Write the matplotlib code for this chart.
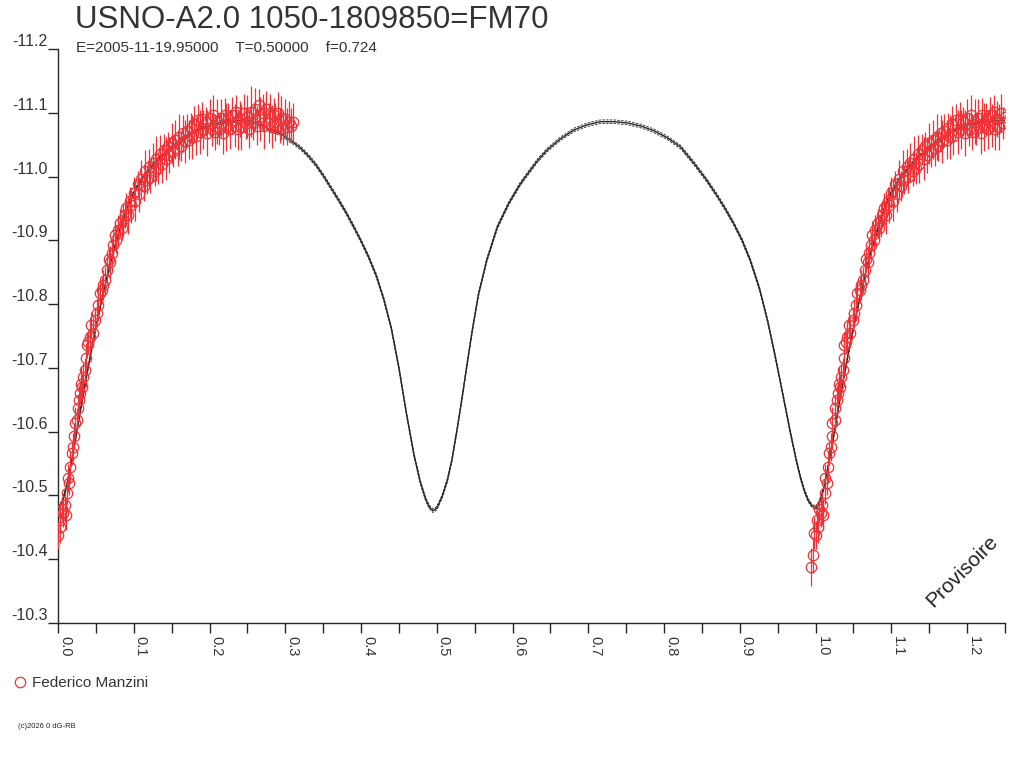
import numpy as np
import matplotlib
matplotlib.use("Agg")
import matplotlib.pyplot as plt
from matplotlib.ticker import MultipleLocator, FixedLocator
from matplotlib.lines import Line2D
from matplotlib.transforms import offset_copy

plt.rcParams['font.family'] = ['Liberation Sans', 'DejaVu Sans']

# ---------------- data ----------------
title = "USNO-A2.0 1050-1809850=FM70"
subtitle = "E=2005-11-19.95000    T=0.50000    f=0.724"
observer = "Federico Manzini"

x_ticks = [0.0, 0.1, 0.2, 0.3, 0.4, 0.5, 0.6, 0.7, 0.8, 0.9, 1.0, 1.1, 1.2]
x_labels = ["0.0", "0.1", "0.2", "0.3", "0.4", "0.5", "0.6", "0.7", "0.8", "0.9", "1.0", "1.1", "1.2"]
y_ticks = [-11.2, -11.1, -11.0, -10.9, -10.8, -10.7, -10.6, -10.5, -10.4, -10.3]
y_labels = ["-11.2", "-11.1", "-11.0", "-10.9", "-10.8", "-10.7", "-10.6", "-10.5", "-10.4", "-10.3"]

# model light curve (phase 0..1)
phase_model = [0.000, 0.005, 0.011, 0.017, 0.024, 0.030, 0.037, 0.044, 0.050, 0.057,
               0.063, 0.070, 0.077, 0.086, 0.093, 0.100, 0.110, 0.121, 0.134, 0.148,
               0.163, 0.178, 0.190, 0.201, 0.218, 0.235, 0.250, 0.265, 0.280, 0.295,
               0.310, 0.320, 0.330, 0.340, 0.350, 0.360, 0.370, 0.380, 0.390, 0.400,
               0.410, 0.420, 0.430, 0.440, 0.450, 0.460, 0.470, 0.478, 0.485, 0.490,
               0.495, 0.500, 0.507, 0.514, 0.520, 0.527, 0.534, 0.540, 0.547, 0.555,
               0.566, 0.580, 0.595, 0.610, 0.621, 0.633, 0.646, 0.663, 0.681, 0.698,
               0.716, 0.734, 0.752, 0.770, 0.786, 0.804, 0.822, 0.840, 0.857, 0.870,
               0.881, 0.892, 0.903, 0.914, 0.926, 0.937, 0.946, 0.954, 0.961, 0.967,
               0.974, 0.980, 0.985, 0.990, 0.995, 1.000]
mag_model = [-10.480, -10.489, -10.512, -10.548, -10.594, -10.636, -10.683, -10.727, -10.763, -10.802,
             -10.834, -10.868, -10.899, -10.934, -10.957, -10.975, -10.995, -11.012, -11.029, -11.044,
             -11.058, -11.069, -11.076, -11.081, -11.086, -11.088, -11.088, -11.082, -11.074, -11.066,
             -11.054, -11.045, -11.033, -11.019, -11.002, -10.983, -10.964, -10.944, -10.922, -10.899,
             -10.874, -10.845, -10.808, -10.762, -10.700, -10.628, -10.563, -10.522, -10.495, -10.482,
             -10.476, -10.480, -10.498, -10.524, -10.556, -10.605, -10.658, -10.706, -10.760, -10.815,
             -10.869, -10.921, -10.958, -10.988, -11.006, -11.025, -11.042, -11.059, -11.073, -11.081,
             -11.086, -11.086, -11.084, -11.079, -11.072, -11.061, -11.046, -11.020, -10.993, -10.970,
             -10.949, -10.926, -10.900, -10.868, -10.824, -10.772, -10.722, -10.675, -10.633, -10.597,
             -10.558, -10.528, -10.508, -10.493, -10.484, -10.480]

# observations (phase, magnitude, error)
phase_obs = [0.994, 0.996, 0.998,
             0.000, 0.002, 0.003, 0.005, 0.007, 0.009, 0.010, 0.012, 0.013, 0.015,
             0.016, 0.018, 0.020, 0.021, 0.022, 0.025, 0.026, 0.028, 0.029, 0.031,
             0.032, 0.033, 0.036, 0.037, 0.038, 0.040, 0.042, 0.044, 0.046, 0.049,
             0.051, 0.053, 0.055, 0.058, 0.060, 0.062, 0.065, 0.067, 0.069, 0.071,
             0.073, 0.075, 0.077, 0.079, 0.082, 0.084, 0.086, 0.088,
             0.090, 0.093, 0.095, 0.097, 0.100, 0.102, 0.105, 0.107,
             0.110, 0.113, 0.115, 0.117, 0.120, 0.122, 0.125, 0.128,
             0.130, 0.132, 0.135, 0.137, 0.140, 0.143, 0.145, 0.147,
             0.150, 0.152, 0.155, 0.158, 0.160, 0.162, 0.165, 0.167,
             0.170, 0.173, 0.175, 0.177, 0.180, 0.182, 0.185, 0.188,
             0.190, 0.192, 0.195, 0.197, 0.200, 0.203, 0.205, 0.207,
             0.210, 0.212, 0.215, 0.218, 0.220, 0.222, 0.225, 0.227,
             0.230, 0.233, 0.235, 0.237, 0.240, 0.242, 0.245, 0.248,
             0.250, 0.252, 0.255, 0.257, 0.260, 0.263, 0.265, 0.267,
             0.270, 0.272, 0.275, 0.278, 0.280, 0.282, 0.285, 0.287,
             0.290, 0.293, 0.295, 0.297, 0.300, 0.302, 0.305, 0.307,
             0.310]
mag_obs = [-10.388, -10.407, -10.441,
           -10.438, -10.462, -10.451, -10.478, -10.472, -10.485, -10.470, -10.504, -10.527, -10.520,
           -10.545, -10.566, -10.576, -10.593, -10.614, -10.618, -10.637, -10.650, -10.661, -10.675,
           -10.670, -10.686, -10.697, -10.715, -10.736, -10.740, -10.748, -10.767, -10.755, -10.775,
           -10.786, -10.799, -10.817, -10.822, -10.830, -10.838, -10.853, -10.870, -10.866, -10.880,
           -10.893, -10.908, -10.900, -10.916, -10.927, -10.920, -10.932, -10.940,
           -10.950, -10.940, -10.962, -10.955, -10.975, -10.962, -10.988, -10.972,
           -10.996, -10.985, -11.008, -10.994, -11.015, -11.000, -11.022, -11.008,
           -11.028, -11.014, -11.036, -11.020, -11.042, -11.028, -11.048, -11.034,
           -11.052, -11.040, -11.058, -11.044, -11.062, -11.048, -11.068, -11.055,
           -11.072, -11.058, -11.076, -11.062, -11.082, -11.064, -11.088, -11.070,
           -11.090, -11.074, -11.086, -11.068, -11.092, -11.074, -11.096, -11.070,
           -11.086, -11.074, -11.092, -11.068, -11.096, -11.078, -11.090, -11.074,
           -11.096, -11.080, -11.102, -11.074, -11.090, -11.078, -11.100, -11.084,
           -11.094, -11.074, -11.102, -11.084, -11.106, -11.080, -11.112, -11.090,
           -11.100, -11.080, -11.106, -11.084, -11.100, -11.078, -11.096, -11.086,
           -11.100, -11.080, -11.092, -11.076, -11.090, -11.078, -11.086, -11.080,
           -11.085]
err_obs = [0.030, 0.028, 0.025, 0.022, 0.020, 0.025, 0.018, 0.022, 0.020, 0.024,
           0.018, 0.022, 0.020, 0.025, 0.018, 0.022, 0.020, 0.024, 0.019, 0.021,
           0.023, 0.018, 0.026, 0.020, 0.022, 0.019, 0.024, 0.021, 0.018, 0.025,
           0.020, 0.023, 0.019, 0.022, 0.026, 0.018, 0.021, 0.024, 0.020, 0.022,
           0.019, 0.025, 0.021, 0.018, 0.023, 0.020, 0.024, 0.022, 0.019, 0.026,
           0.021, 0.025, 0.030, 0.022, 0.028, 0.024, 0.032, 0.020, 0.027, 0.030,
           0.024, 0.033, 0.022, 0.028, 0.026, 0.031, 0.023, 0.035, 0.025, 0.029,
           0.030, 0.024, 0.034, 0.022, 0.028, 0.032, 0.025, 0.030, 0.027, 0.036,
           0.023, 0.029, 0.033, 0.026, 0.031, 0.024, 0.035, 0.028, 0.030, 0.025,
           0.034, 0.027, 0.031, 0.023, 0.036, 0.029, 0.026, 0.032, 0.028, 0.035,
           0.024, 0.030, 0.033, 0.027, 0.038, 0.025, 0.031, 0.029, 0.034, 0.026,
           0.032, 0.028, 0.036, 0.030, 0.025, 0.034, 0.029, 0.040, 0.027, 0.033,
           0.031, 0.026, 0.035, 0.029, 0.037, 0.028, 0.032, 0.030, 0.034, 0.027,
           0.030, 0.033, 0.028, 0.035, 0.026, 0.031, 0.029, 0.032, 0.027, 0.030]

XMAX = 1.25
RED = '#ee3338'
BLACK = '#262626'
TXT = '#333333'

# ---------------- figure ----------------
fig = plt.figure(figsize=(10.24, 7.68), dpi=100)
ax = fig.add_axes([58 / 1024, 1 - 623 / 768, (1005 - 58) / 1024, (623 - 49) / 768])

# model curve repeated beyond phase 1
pm = np.array(phase_model)
mm = np.array(mag_model)
ext = (pm > 0) & (pm <= XMAX - 1 + 0.001)
pm_all = np.concatenate([pm, pm[ext] + 1])
mm_all = np.concatenate([mm, mm[ext]])

for dy in [1.8, -1.8]:
    tr = offset_copy(ax.transData, fig=fig, x=0, y=dy, units='dots')
    ax.plot(pm_all, mm_all, color=BLACK, lw=0.6, ls=(0, (3, 1.5)), transform=tr, zorder=2)
ax.plot(pm_all, mm_all, color=BLACK, lw=1.0, zorder=2)

# observations, repeated at phase+1 and phase-1 inside the window
po = np.array(phase_obs)
mo = np.array(mag_obs)
eo = np.array(err_obs)
px = np.concatenate([po, po + 1, po - 1])
my = np.concatenate([mo, mo, mo])
ey = np.concatenate([eo, eo, eo])
keep = (px >= 0) & (px <= XMAX)
ax.errorbar(px[keep], my[keep], yerr=ey[keep], fmt='o', ms=7.5, mfc='none', mec=RED,
            mew=0.9, ecolor=RED, elinewidth=0.9, capsize=0, zorder=3)

ax.set_xlim(0, XMAX)
ax.set_ylim(-10.3, -11.2)
for s in ['top', 'right']:
    ax.spines[s].set_visible(False)
for s in ['left', 'bottom']:
    ax.spines[s].set_color(BLACK)
    ax.spines[s].set_linewidth(1.0)

ax.xaxis.set_major_locator(FixedLocator(x_ticks))
ax.set_xticklabels(x_labels)
ax.xaxis.set_minor_locator(MultipleLocator(0.05))
ax.tick_params(axis='x', which='both', direction='out', length=7, width=1, color=BLACK,
               labelcolor=TXT, labelsize=10.5, pad=2)
for lab in ax.get_xticklabels():
    lab.set_rotation(-90)
    lab.set_ha('left')
    lab.set_va('top')

ax.yaxis.set_major_locator(FixedLocator(y_ticks))
ax.set_yticklabels(y_labels)
ax.tick_params(axis='y', which='both', direction='out', length=7, width=1, color=BLACK,
               labelcolor=TXT, labelsize=11.5, pad=0.5)
for lab in ax.get_yticklabels():
    lab.set_va('bottom')

# texts
fig.text(75 / 1024, 1 - 20 / 768, title, fontsize=22.5, color=TXT, ha='left', va='center')
fig.text(76 / 1024, 1 - 48 / 768, subtitle, fontsize=11, color=TXT, ha='left', va='center')
ax.text(0.955, 0.09, "Provisoire", transform=ax.transAxes, rotation=45, fontsize=15,
        color='#222222', ha='center', va='center')

handle = Line2D([], [], ls='none', marker='o', ms=7.5, mfc='none', mec=RED, mew=0.9)
fig.legend([handle], [observer], loc='center left', bbox_to_anchor=(12 / 1024, 1 - 683 / 768),
           frameon=False, handlelength=1.0, handletextpad=0.3, borderpad=0, borderaxespad=0,
           fontsize=11, labelcolor=TXT)
fig.text(18 / 1024, 1 - 726 / 768, "(c)2026 0 dG-RB", fontsize=5.5, color=BLACK,
         ha='left', va='center')

fig.savefig("out.png", dpi=100)
